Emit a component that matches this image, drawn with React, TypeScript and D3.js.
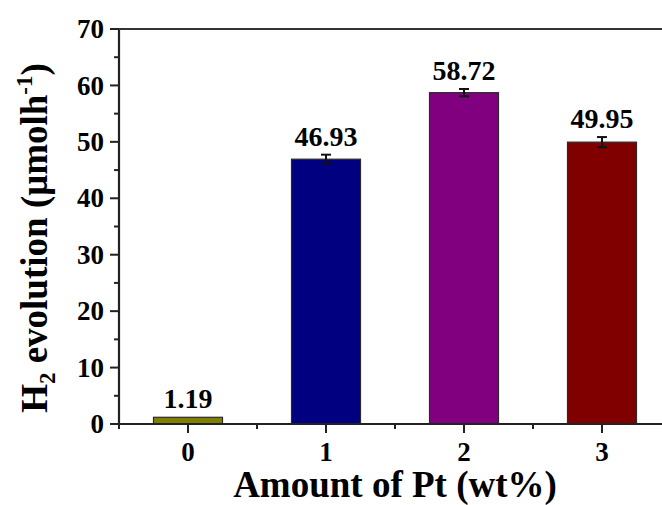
import * as d3 from "d3"

// data
const categories = [0, 1, 2, 3]
const values = [1.19, 46.93, 58.72, 49.95]
const errors = [0, 0.8, 0.65, 0.9]
const barColors = ["#808000", "#000080", "#800080", "#800000"]
const yTicks = [0, 10, 20, 30, 40, 50, 60, 70]
const yMinor = [5, 15, 25, 35, 45, 55, 65]
const xMinor = [-0.5, 0.5, 1.5, 2.5, 3.5]

const width = 662
const height = 505
const margin = { left: 119, top: 29, right: -9, bottom: 81 }
const serif = "Liberation Serif"

function App() {
  const x = d3.scaleLinear().domain([-0.5, 3.5]).range([margin.left, width - margin.right])
  const y = d3.scaleLinear().domain([0, 70]).range([height - margin.bottom, margin.top])
  const barW = x(0.25) - x(0)
  const bold = { fontFamily: serif, fontWeight: "bold" as const }

  return (
    <div style={{ position: "absolute", left: 0, top: 0 }}>
      <svg width={width} height={height} style={{ display: "block", background: "#fff" }}>
        {/* bars */}
        {values.map((v, i) => (
          <rect key={"b" + i} x={x(categories[i]) - barW} width={barW * 2} y={y(v)} height={y(0) - y(v)}
            fill={barColors[i]} stroke="#2a2a2a" strokeWidth={1.2} />
        ))}

        {/* error bars */}
        <g stroke="#111" strokeWidth={2}>
          {values.map((v, i) => {
            if (!errors[i]) return null
            const cx = x(categories[i])
            return (
              <g key={"e" + i}>
                <line x1={cx} x2={cx} y1={y(v - errors[i])} y2={y(v + errors[i])} />
                <line x1={cx - 5} x2={cx + 5} y1={y(v - errors[i])} y2={y(v - errors[i])} />
                <line x1={cx - 5} x2={cx + 5} y1={y(v + errors[i])} y2={y(v + errors[i])} />
              </g>
            )
          })}
        </g>

        {/* value labels */}
        {values.map((v, i) => (
          <text key={"l" + i} x={x(categories[i])} y={y(v + errors[i]) - 9} textAnchor="middle"
            style={{ ...bold, fontSize: 28 }}>{v.toFixed(2)}</text>
        ))}

        {/* frame */}
        <g stroke="#222" strokeWidth={2.2} fill="none">
          <line x1={margin.left} x2={margin.left} y1={y(70)} y2={y(0)} />
          <line x1={margin.left - 1} x2={width - margin.right} y1={y(0)} y2={y(0)} />
          <line x1={margin.left} x2={width - margin.right} y1={y(70)} y2={y(70)} stroke="#333" />
          <line x1={width - margin.right} x2={width - margin.right} y1={y(70)} y2={y(0)} />
        </g>

        {/* ticks */}
        <g stroke="#222" strokeWidth={2}>
          {yTicks.map(t => <line key={"yt" + t} x1={margin.left - 9} x2={margin.left} y1={y(t)} y2={y(t)} />)}
          {yMinor.map(t => <line key={"ym" + t} x1={margin.left - 5} x2={margin.left} y1={y(t)} y2={y(t)} />)}
          {categories.map(c => <line key={"xt" + c} x1={x(c)} x2={x(c)} y1={y(0)} y2={y(0) + 9} />)}
          {xMinor.map(c => <line key={"xm" + c} x1={x(c)} x2={x(c)} y1={y(0)} y2={y(0) + 5} />)}
        </g>
        {yTicks.map(t => (
          <text key={"ytl" + t} x={margin.left - 15} y={y(t)} dy="0.34em" textAnchor="end"
            style={{ ...bold, fontSize: 27 }}>{t}</text>
        ))}
        {categories.map(c => (
          <text key={"xtl" + c} x={x(c)} y={y(0) + 37} textAnchor="middle"
            style={{ ...bold, fontSize: 27 }}>{c}</text>
        ))}

        {/* axis titles */}
        <text x={(margin.left + width - margin.right) / 2} y={497} textAnchor="middle"
          style={{ ...bold, fontSize: 37 }}>Amount of Pt (wt%)</text>
        <text transform={`translate(47,${(60 + 416) / 2}) rotate(-90)`} textAnchor="middle"
          style={{ ...bold, fontSize: 37 }}>
          <tspan>H</tspan>
          <tspan dy={8} style={{ fontSize: 23 }}>2</tspan>
          <tspan dy={-8}> evolution (μmolh</tspan>
          <tspan dy={-15} style={{ fontSize: 23 }}>-1</tspan>
          <tspan dy={15}>)</tspan>
        </text>
      </svg>
    </div>
  )
}

export default App
